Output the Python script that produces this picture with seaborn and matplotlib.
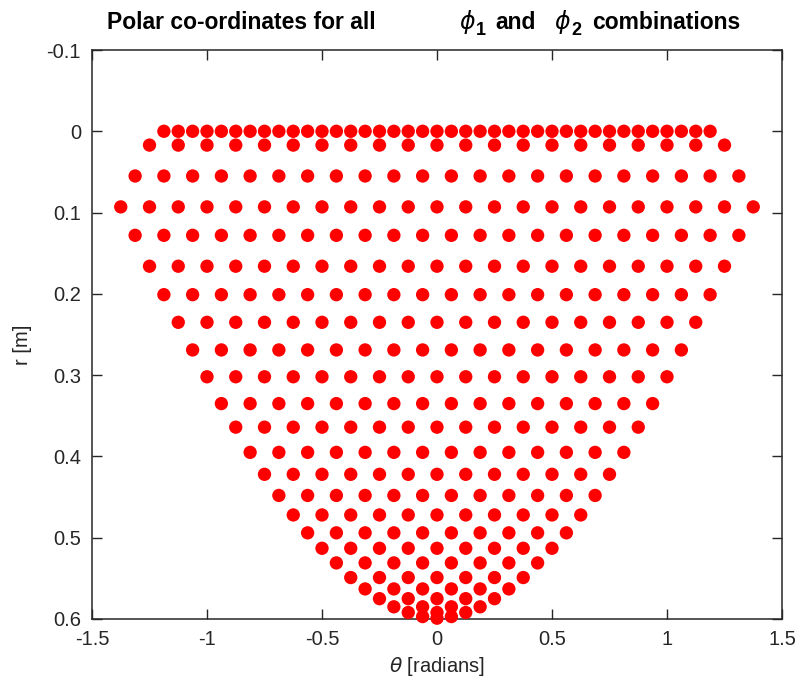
import numpy as np
import pandas as pd
import matplotlib
matplotlib.use("Agg")
import matplotlib.pyplot as plt
import seaborn as sns

# ---- data (rows of constant r, theta positions) ----
r_rows = [0.0, 0.017, 0.055, 0.093, 0.128, 0.166, 0.201, 0.235, 0.269, 0.302,
          0.335, 0.364, 0.395, 0.422, 0.448, 0.472, 0.494, 0.513, 0.531, 0.549,
          0.563, 0.575, 0.585, 0.592, 0.597, 0.599]

th_A = [-1.1875, -1.125, -1.0625, -1.0, -0.9375, -0.875, -0.8125, -0.75, -0.6875, -0.625,
        -0.5625, -0.5, -0.4375, -0.375, -0.3125, -0.25, -0.1875, -0.125, -0.0625, 0.0,
        0.0625, 0.125, 0.1875, 0.25, 0.3125, 0.375, 0.4375, 0.5, 0.5625, 0.625,
        0.6875, 0.75, 0.8125, 0.875, 0.9375, 1.0, 1.0625, 1.125, 1.1875]
th_B = [-1.25, -1.125, -1.0, -0.875, -0.75, -0.625, -0.5, -0.375, -0.25, -0.125, 0.0,
        0.125, 0.25, 0.375, 0.5, 0.625, 0.75, 0.875, 1.0, 1.125, 1.25]
th_C = [-1.3125, -1.1875, -1.0625, -0.9375, -0.8125, -0.6875, -0.5625, -0.4375, -0.3125, -0.1875, -0.0625,
        0.0625, 0.1875, 0.3125, 0.4375, 0.5625, 0.6875, 0.8125, 0.9375, 1.0625, 1.1875, 1.3125]
th_D = [-1.375, -1.25, -1.125, -1.0, -0.875, -0.75, -0.625, -0.5, -0.375, -0.25, -0.125, 0.0,
        0.125, 0.25, 0.375, 0.5, 0.625, 0.75, 0.875, 1.0, 1.125, 1.25, 1.375]
th_E = [-1.3125, -1.1875, -1.0625, -0.9375, -0.8125, -0.6875, -0.5625, -0.4375, -0.3125, -0.1875, -0.0625,
        0.0625, 0.1875, 0.3125, 0.4375, 0.5625, 0.6875, 0.8125, 0.9375, 1.0625, 1.1875, 1.3125]
th_F = [-1.25, -1.125, -1.0, -0.875, -0.75, -0.625, -0.5, -0.375, -0.25, -0.125, 0.0,
        0.125, 0.25, 0.375, 0.5, 0.625, 0.75, 0.875, 1.0, 1.125, 1.25]
th_G = [-1.1875, -1.0625, -0.9375, -0.8125, -0.6875, -0.5625, -0.4375, -0.3125, -0.1875, -0.0625,
        0.0625, 0.1875, 0.3125, 0.4375, 0.5625, 0.6875, 0.8125, 0.9375, 1.0625, 1.1875]
th_H = [-1.125, -1.0, -0.875, -0.75, -0.625, -0.5, -0.375, -0.25, -0.125, 0.0,
        0.125, 0.25, 0.375, 0.5, 0.625, 0.75, 0.875, 1.0, 1.125]
th_I = [-1.0625, -0.9375, -0.8125, -0.6875, -0.5625, -0.4375, -0.3125, -0.1875, -0.0625,
        0.0625, 0.1875, 0.3125, 0.4375, 0.5625, 0.6875, 0.8125, 0.9375, 1.0625]
th_J = [-1.0, -0.875, -0.75, -0.625, -0.5, -0.375, -0.25, -0.125, 0.0,
        0.125, 0.25, 0.375, 0.5, 0.625, 0.75, 0.875, 1.0]
th_K = [-0.9375, -0.8125, -0.6875, -0.5625, -0.4375, -0.3125, -0.1875, -0.0625,
        0.0625, 0.1875, 0.3125, 0.4375, 0.5625, 0.6875, 0.8125, 0.9375]
th_L = [-0.875, -0.75, -0.625, -0.5, -0.375, -0.25, -0.125, 0.0,
        0.125, 0.25, 0.375, 0.5, 0.625, 0.75, 0.875]
th_M = [-0.8125, -0.6875, -0.5625, -0.4375, -0.3125, -0.1875, -0.0625,
        0.0625, 0.1875, 0.3125, 0.4375, 0.5625, 0.6875, 0.8125]
th_N = [-0.75, -0.625, -0.5, -0.375, -0.25, -0.125, 0.0, 0.125, 0.25, 0.375, 0.5, 0.625, 0.75]
th_O = [-0.6875, -0.5625, -0.4375, -0.3125, -0.1875, -0.0625,
        0.0625, 0.1875, 0.3125, 0.4375, 0.5625, 0.6875]
th_P = [-0.625, -0.5, -0.375, -0.25, -0.125, 0.0, 0.125, 0.25, 0.375, 0.5, 0.625]
th_Q = [-0.5625, -0.4375, -0.3125, -0.1875, -0.0625, 0.0625, 0.1875, 0.3125, 0.4375, 0.5625]
th_R = [-0.5, -0.375, -0.25, -0.125, 0.0, 0.125, 0.25, 0.375, 0.5]
th_S = [-0.4375, -0.3125, -0.1875, -0.0625, 0.0625, 0.1875, 0.3125, 0.4375]
th_T = [-0.375, -0.25, -0.125, 0.0, 0.125, 0.25, 0.375]
th_U = [-0.3125, -0.1875, -0.0625, 0.0625, 0.1875, 0.3125]
th_V = [-0.25, -0.125, 0.0, 0.125, 0.25]
th_W = [-0.1875, -0.0625, 0.0625, 0.1875]
th_X = [-0.125, 0.0, 0.125]
th_Y = [-0.0625, 0.0625]
th_Z = [0.0]

theta_rows = [th_A, th_B, th_C, th_D, th_E, th_F, th_G, th_H, th_I, th_J, th_K, th_L, th_M,
              th_N, th_O, th_P, th_Q, th_R, th_S, th_T, th_U, th_V, th_W, th_X, th_Y, th_Z]

x_ticks = [-1.5, -1.0, -0.5, 0.0, 0.5, 1.0, 1.5]
x_tick_labels = ["-1.5", "-1", "-0.5", "0", "0.5", "1", "1.5"]
y_ticks = [-0.1, 0.0, 0.1, 0.2, 0.3, 0.4, 0.5, 0.6]
y_tick_labels = ["-0.1", "0", "0.1", "0.2", "0.3", "0.4", "0.5", "0.6"]

rows = []
for rv, ths in zip(r_rows, theta_rows):
    for t in ths:
        rows.append((t, rv))
df = pd.DataFrame(rows, columns=["theta", "r"])

# ---- plotting ----
sns.set_style("ticks")
plt.rcParams["font.family"] = ["Liberation Sans", "DejaVu Sans"]
plt.rcParams["mathtext.fontset"] = "dejavusans"
plt.rcParams["axes.unicode_minus"] = False

W, H = 798, 687
fig = plt.figure(figsize=(W / 100, H / 100), dpi=100)
ax = fig.add_axes([92 / W, 1 - 619 / H, (782 - 92) / W, (619 - 50) / H])

sns.scatterplot(data=df, x="theta", y="r", color="#ff0000", s=92, edgecolor="none",
                linewidth=0, legend=False, ax=ax, clip_on=False, zorder=3)

ax.set_xlim(-1.5, 1.5)
ax.set_ylim(0.6, -0.1)
ax.set_xticks(x_ticks)
ax.set_xticklabels(x_tick_labels)
ax.set_yticks(y_ticks)
ax.set_yticklabels(y_tick_labels)

ax.tick_params(direction="in", top=True, right=True, length=7, width=1.0,
               labelsize=14.5, colors="#262626", pad=8)
for sp in ax.spines.values():
    sp.set_visible(True)
    sp.set_color("#262626")
    sp.set_linewidth(1.1)

ax.set_xlabel("")
ax.set_ylabel("")
fig.text(437 / W, 1 - 667 / H, r"$\theta$ [radians]", ha="center", va="center",
         fontsize=14.5, color="#262626")
fig.text(22 / W, 1 - 345 / H, "r [m]", ha="center", va="center", rotation=90,
         fontsize=14.5, color="#262626")

ty = 1 - 29 / H
fs_t = 16.5
fig.text(107 / W, ty, "Polar co-ordinates for all", ha="left", va="baseline",
         fontsize=fs_t, fontweight="bold", color="black")
fig.text(459 / W, ty, r"$\phi$", ha="left", va="baseline",
         fontsize=17, color="black")
fig.text(476 / W, 1 - 35 / H, "1", ha="left", va="baseline",
         fontsize=13, fontweight="bold", color="black")
fig.text(495 / W, ty, "and", ha="left", va="baseline",
         fontsize=fs_t, fontweight="bold", color="black")
fig.text(554 / W, ty, r"$\phi$", ha="left", va="baseline",
         fontsize=17, color="black")
fig.text(571 / W, 1 - 35 / H, "2", ha="left", va="baseline",
         fontsize=13, fontweight="bold", color="black")
fig.text(592 / W, ty, "combinations", ha="left", va="baseline",
         fontsize=fs_t, fontweight="bold", color="black")

fig.savefig("out.png", dpi=100)
